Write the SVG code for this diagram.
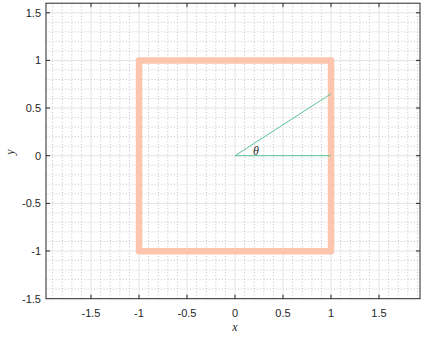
<svg xmlns="http://www.w3.org/2000/svg" width="422" height="337" viewBox="0 0 422 337">
<style>
.minor{stroke:#c4c4c4;stroke-width:1;stroke-dasharray:1 2.2;fill:none}
.major{stroke:#e3e3e3;stroke-width:1;fill:none}
.axis{stroke:#262626;stroke-width:1;fill:none}
.tick{font-family:"Liberation Sans",Arial,sans-serif;font-size:11px;fill:#262626}
.lbl{font-family:"Liberation Serif","Times New Roman",serif;font-style:italic;font-size:12px;fill:#262626}
</style>
<rect width="422" height="337" fill="#ffffff"/>
<g id="grid">
<path class="minor" d="M52.6 3.2V298.7M62.2 3.2V298.7M71.8 3.2V298.7M81.4 3.2V298.7M100.6 3.2V298.7M110.2 3.2V298.7M119.8 3.2V298.7M129.4 3.2V298.7M148.6 3.2V298.7M158.2 3.2V298.7M167.8 3.2V298.7M177.4 3.2V298.7M196.6 3.2V298.7M206.2 3.2V298.7M215.8 3.2V298.7M225.4 3.2V298.7M244.6 3.2V298.7M254.2 3.2V298.7M263.8 3.2V298.7M273.4 3.2V298.7M292.6 3.2V298.7M302.2 3.2V298.7M311.8 3.2V298.7M321.4 3.2V298.7M340.6 3.2V298.7M350.2 3.2V298.7M359.8 3.2V298.7M369.4 3.2V298.7M388.6 3.2V298.7M398.2 3.2V298.7M407.8 3.2V298.7M417.4 3.2V298.7
M46 22.3H420M46 31.8H420M46 41.3H420M46 50.9H420M46 69.9H420M46 79.5H420M46 89H420M46 98.5H420M46 117.6H420M46 127.1H420M46 136.6H420M46 146.2H420M46 165.2H420M46 174.8H420M46 184.3H420M46 193.8H420M46 212.9H420M46 222.4H420M46 231.9H420M46 241.5H420M46 260.5H420M46 270.1H420M46 279.6H420M46 289.1H420"/>
<path class="major" d="M91 3.2V298.7M139 3.2V298.7M187 3.2V298.7M235 3.2V298.7M283 3.2V298.7M331 3.2V298.7M379 3.2V298.7M46 12.8H420M46 60.4H420M46 108H420M46 155.7H420M46 203.4H420M46 251H420"/>
</g>
<g id="square">
<rect x="139" y="60.6" width="192" height="190.6" fill="none" stroke="#fdc5ae" stroke-width="6.5" stroke-linejoin="round"/>
</g>
<g id="connectors">
<path d="M235 155.7H331M235 155.7L331 93.8" fill="none" stroke="#5cc39b" stroke-width="1"/>
</g>
<g id="theta">
<text class="lbl" x="256" y="154.5" text-anchor="middle" font-size="11">θ</text>
</g>
<g id="axes">
<rect class="axis" x="46" y="3.2" width="374" height="295.5"/>
<path class="axis" d="M46 12.8h4M46 60.4h4M46 108h4M46 155.7h4M46 203.4h4M46 251h4M420 12.8h-4M420 60.4h-4M420 108h-4M420 155.7h-4M420 203.4h-4M420 251h-4M91 298.7v-4M139 298.7v-4M187 298.7v-4M235 298.7v-4M283 298.7v-4M331 298.7v-4M379 298.7v-4M91 3.2v4M139 3.2v4M187 3.2v4M235 3.2v4M283 3.2v4M331 3.2v4M379 3.2v4"/>
</g>
<g id="yticks" class="tick" text-anchor="end">
<text x="41" y="16.8">1.5</text>
<text x="41" y="64.4">1</text>
<text x="41" y="112">0.5</text>
<text x="41" y="159.7">0</text>
<text x="41" y="207.4">-0.5</text>
<text x="41" y="255">-1</text>
<text x="41" y="302.7">-1.5</text>
</g>
<g id="xticks" class="tick" text-anchor="middle">
<text x="91" y="317">-1.5</text>
<text x="139" y="317">-1</text>
<text x="187" y="317">-0.5</text>
<text x="235" y="317">0</text>
<text x="283" y="317">0.5</text>
<text x="331" y="317">1</text>
<text x="379" y="317">1.5</text>
</g>
<g id="labels">
<text class="lbl" x="235" y="331" text-anchor="middle">x</text>
<text class="lbl" x="14" y="152" text-anchor="middle" transform="rotate(-90 14 152)">y</text>
</g>
</svg>
